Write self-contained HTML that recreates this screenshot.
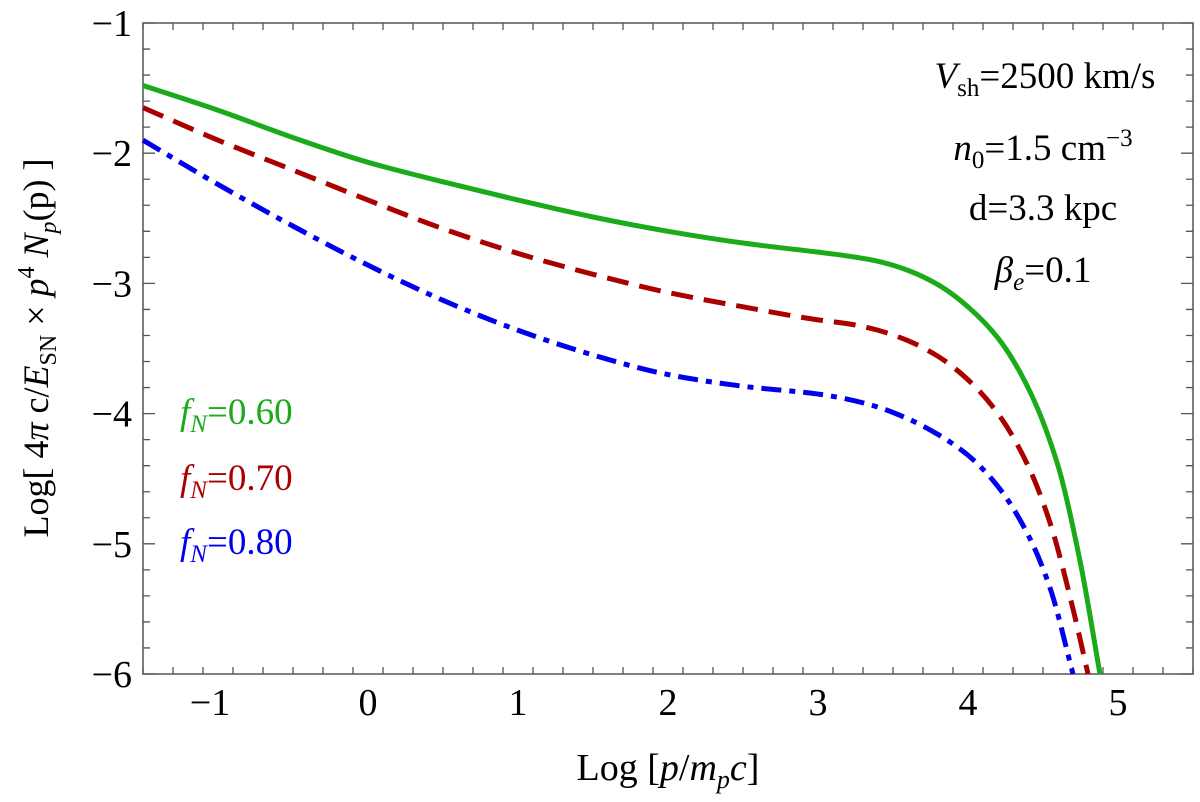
<!DOCTYPE html>
<html><head><meta charset="utf-8"><style>
body{margin:0;background:#fff}
svg, svg text, svg tspan{font-family:"Liberation Serif",serif}
</style></head><body>
<svg id="c" width="1200" height="797" font-family="Liberation Serif, serif">
<rect x="143" y="23" width="1050" height="651" fill="none" stroke="#555" stroke-width="1.5"/>
<g id="ticks"></g>
<g id="curves"></g>
<text x="668" y="780" font-size="38" text-anchor="middle">Log [<tspan font-style="italic">p</tspan>/<tspan font-style="italic">m</tspan><tspan font-style="italic" font-size="26" dy="8">p</tspan><tspan font-style="italic" dy="-8">c</tspan>]</text>
<text transform="translate(48,348) rotate(-90)" font-size="36" text-anchor="middle">Log[ 4<tspan font-style="italic">π</tspan> c/<tspan font-style="italic">E</tspan><tspan font-size="24" dy="8">SN</tspan><tspan dy="-8"> × </tspan><tspan font-style="italic">p</tspan><tspan font-size="24" dy="-14">4</tspan><tspan dy="14"> </tspan><tspan font-style="italic">N</tspan><tspan font-style="italic" font-size="24" dy="8">p</tspan><tspan dy="-8">(p) ]</tspan></text>
<g font-size="37" text-anchor="middle">
<text x="1045" y="88"><tspan font-style="italic">V</tspan><tspan font-size="25" dy="8">sh</tspan><tspan dy="-8">=2500 km/s</tspan></text>
<text x="1043" y="160"><tspan font-style="italic">n</tspan><tspan font-size="25" dy="8">0</tspan><tspan dy="-8">=1.5 cm</tspan><tspan font-size="25" dy="-14">−3</tspan></text>
<text x="1043" y="220">d=3.3 kpc</text>
<text x="1043" y="282"><tspan font-style="italic">β</tspan><tspan font-style="italic" font-size="25" dy="8">e</tspan><tspan dy="-8">=0.1</tspan></text>
</g>
<g font-size="37">
<text x="180" y="424" fill="#1aaa1a"><tspan font-style="italic">f</tspan><tspan font-style="italic" font-size="25" dy="8">N</tspan><tspan dy="-8">=0.60</tspan></text>
<text x="180" y="490" fill="#aa0000"><tspan font-style="italic">f</tspan><tspan font-style="italic" font-size="25" dy="8">N</tspan><tspan dy="-8">=0.70</tspan></text>
<text x="180" y="554" fill="#0000ee"><tspan font-style="italic">f</tspan><tspan font-style="italic" font-size="25" dy="8">N</tspan><tspan dy="-8">=0.80</tspan></text>
</g>
</svg>
<script>
const xTicks=[-1,0,1,2,3,4,5];
const yTicks=[-1,-2,-3,-4,-5,-6];
const xsG=[-1.5,-1,-0.5,0,0.5,1,1.5,2,2.5,3,3.2,3.4,3.6,3.8,4.0,4.2,4.4,4.6,4.75,4.88];
const ysG=[-1.48,-1.67,-1.88,-2.07,-2.22,-2.36,-2.49,-2.6,-2.69,-2.76,-2.79,-2.83,-2.9,-3.01,-3.18,-3.42,-3.8,-4.4,-5.15,-6];
const xsR=[-1.5,-1,-0.5,0,0.5,1,1.5,2,2.5,3,3.2,3.4,3.6,3.8,4.0,4.2,4.4,4.55,4.7,4.8];
const ysR=[-1.65,-1.9,-2.13,-2.36,-2.58,-2.77,-2.93,-3.07,-3.18,-3.28,-3.31,-3.36,-3.44,-3.56,-3.74,-4.0,-4.4,-4.85,-5.5,-6];
const xsB=[-1.5,-1,-0.5,0,0.5,1,1.5,2,2.5,3,3.2,3.4,3.6,3.8,4.0,4.2,4.4,4.55,4.7];
const ysB=[-1.9,-2.24,-2.56,-2.86,-3.13,-3.36,-3.55,-3.7,-3.79,-3.85,-3.89,-3.95,-4.04,-4.16,-4.32,-4.56,-4.93,-5.35,-6];
const X=v=>143+(v+1.5)*150, Y=v=>23+(-1-v)*130.2;
const NS="http://www.w3.org/2000/svg";
const tg=document.getElementById('ticks');
let d="";
for(let i=0;i<=35;i++){const v=-1.5+i*0.2;if(v>5.5+1e-6)break;const x=X(v),L=Math.abs(v-Math.round(v))<1e-6?12:7;d+=`M${x},674v${-L}M${x},23v${L}`;}
for(let i=0;i<=25;i++){const v=-1-i*0.2;const y=Y(v),L=Math.abs(v-Math.round(v))<1e-6?12:7;d+=`M143,${y}h${L}M1193,${y}h${-L}`;}
const tp=document.createElementNS(NS,'path');tp.setAttribute('d',d);tp.setAttribute('stroke','#555');tp.setAttribute('stroke-width','1.3');


tg.appendChild(tp);
xTicks.forEach(v=>{const t=document.createElementNS(NS,'text');t.setAttribute('x',X(v)-(v<0?8:0));t.setAttribute('y',715);t.setAttribute('font-size','38');t.setAttribute('text-anchor','middle');t.setAttribute('font-family','Liberation Serif, serif');t.textContent=(v<0?'−':'')+Math.abs(v);


tg.appendChild(t);});
yTicks.forEach(v=>{const t=document.createElementNS(NS,'text');t.setAttribute('x',132);t.setAttribute('y',Y(v)+13);t.setAttribute('font-size','38');t.setAttribute('text-anchor','end');t.setAttribute('font-family','Liberation Serif, serif');t.textContent='−'+Math.abs(v);


tg.appendChild(t);});
function path(xs,ys){const n=xs.length,px=xs.map(X),py=ys.map(Y);
const dl=[],m=new Array(n);
for(let i=0;i<n-1;i++)dl.push((py[i+1]-py[i])/(px[i+1]-px[i]));
m[0]=dl[0];m[n-1]=dl[n-2];
for(let i=1;i<n-1;i++){if(dl[i-1]*dl[i]<=0)m[i]=0;else{const h0=px[i]-px[i-1],h1=px[i+1]-px[i];const w1=2*h1+h0,w2=h1+2*h0;m[i]=(w1+w2)/(w1/dl[i-1]+w2/dl[i]);}}
let s=`M${px[0]},${py[0]}`;
for(let i=0;i<n-1;i++){const h=(px[i+1]-px[i])/3;s+=`C${px[i]+h},${py[i]+m[i]*h} ${px[i+1]-h},${py[i+1]-m[i+1]*h} ${px[i+1]},${py[i+1]}`;}
return s;}
const cg=document.getElementById('curves');
[[xsG,ysG,'#1aaa1a','','curve-fn-060'],[xsR,ysR,'#aa0000','22 11','curve-fn-070'],[xsB,ysB,'#0000ee','20 8 6 8','curve-fn-080']].forEach(([xs,ys,c,da,n])=>{
const e=document.createElementNS(NS,'path');e.setAttribute('d',path(xs,ys));e.setAttribute('fill','none');e.setAttribute('stroke',c);e.setAttribute('stroke-width','5');if(da)e.setAttribute('stroke-dasharray',da);


cg.appendChild(e);});
</script>
</body></html>
